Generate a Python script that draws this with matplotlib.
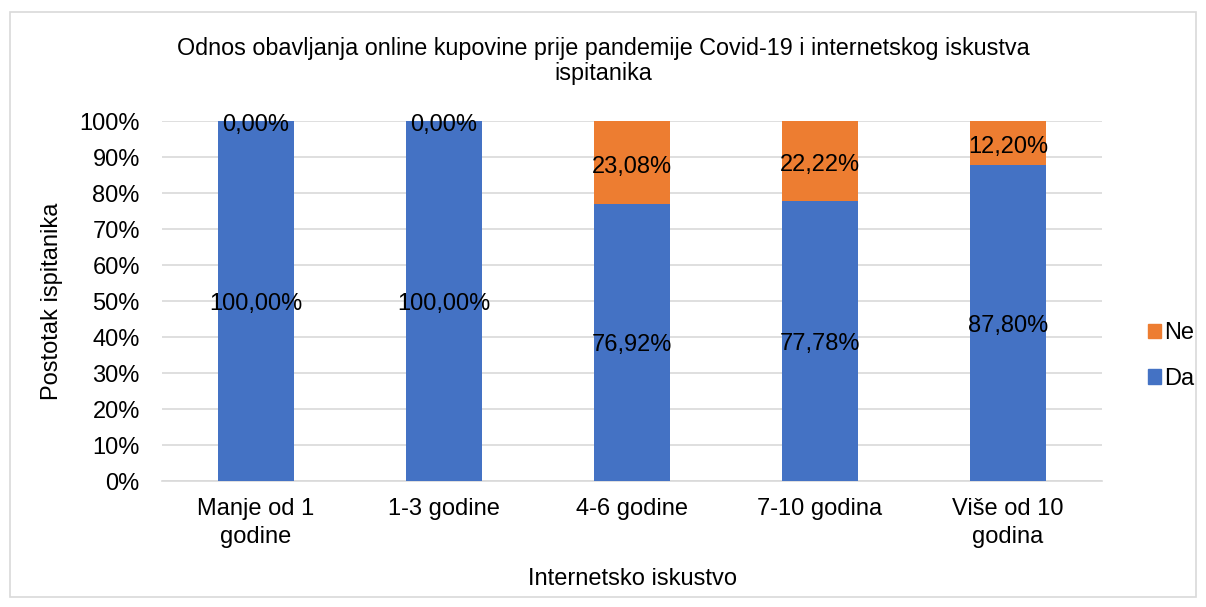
import matplotlib
matplotlib.use("Agg")
import matplotlib.pyplot as plt
import matplotlib.patches as mpatches
import numpy as np

plt.rcParams.update({
    "font.family": ["Liberation Sans", "DejaVu Sans"],
    "font.size": 17,
})

BLUE = "#4472C4"
ORANGE = "#ED7D31"
GRID = "#D9D9D9"

categories = ["Manje od 1\ngodine", "1-3 godine", "4-6 godine", "7-10 godina", "Više od 10\ngodina"]
da = [100.00, 100.00, 76.92, 77.78, 87.80]
ne = [0.00, 0.00, 23.08, 22.22, 12.20]


def pct(v):
    return f"{v:.2f}%".replace(".", ",")


fig = plt.figure(figsize=(12.06, 6.07), dpi=100)
ax = fig.add_axes([162 / 1206, 1 - 481 / 607, 940 / 1206, 360 / 607])

x = np.arange(len(categories))
w = 0.4
ax.bar(x, da, w, color=BLUE, zorder=3)
ax.bar(x, ne, w, bottom=da, color=ORANGE, zorder=3)

# segment labels sit at the middle of each stack part
for i in range(len(categories)):
    ax.annotate(pct(da[i]), (x[i], da[i] / 2), xytext=(0, -2), textcoords="offset points",
                ha="center", va="center", fontsize=17, zorder=4)
    ax.annotate(pct(ne[i]), (x[i], da[i] + ne[i] / 2), xytext=(0, -3), textcoords="offset points",
                ha="center", va="center", fontsize=17, zorder=4)

ax.set_xlim(-0.5, len(categories) - 0.5)
ax.set_ylim(0, 100)
ax.set_yticks(np.arange(0, 101, 10))
ax.set_yticklabels([f"{t}%" for t in range(0, 101, 10)], fontsize=17)
ax.set_xticks(x)
ax.set_xticklabels(categories, fontsize=17, linespacing=1.35)
ax.tick_params(length=0)
ax.tick_params(axis="y", pad=16)
ax.tick_params(axis="x", pad=12)
ax.yaxis.grid(True, color=GRID, linewidth=1.2, zorder=0)
for s in ["top", "right", "left"]:
    ax.spines[s].set_visible(False)
ax.spines["bottom"].set_color(GRID)
ax.spines["bottom"].set_linewidth(1.2)

ax.set_ylabel("Postotak ispitanika", fontsize=17, labelpad=12)
ax.set_xlabel("Internetsko iskustvo", fontsize=17, labelpad=15)

fig.text(0.5, 1 - 61 / 607, "Odnos obavljanja online kupovine prije pandemije Covid-19 i internetskog iskustva\nispitanika",
         ha="center", va="center", fontsize=16.8, linespacing=1.15)

handles = [mpatches.Patch(color=ORANGE, label="Ne"), mpatches.Patch(color=BLUE, label="Da")]
fig.legend(handles=handles, loc="center left", bbox_to_anchor=(1136 / 1206, 1 - 356 / 607),
           frameon=False, fontsize=17, handlelength=0.55, handleheight=0.55, handletextpad=0.15,
           labelspacing=1.0, borderpad=0)

border = mpatches.Rectangle((10 / 1206, 1 - 597 / 607), 1186 / 1206, 585 / 607,
                            transform=fig.transFigure, fill=False, edgecolor=GRID, linewidth=1.2)
fig.patches.append(border)

fig.savefig("out.png", dpi=100)
